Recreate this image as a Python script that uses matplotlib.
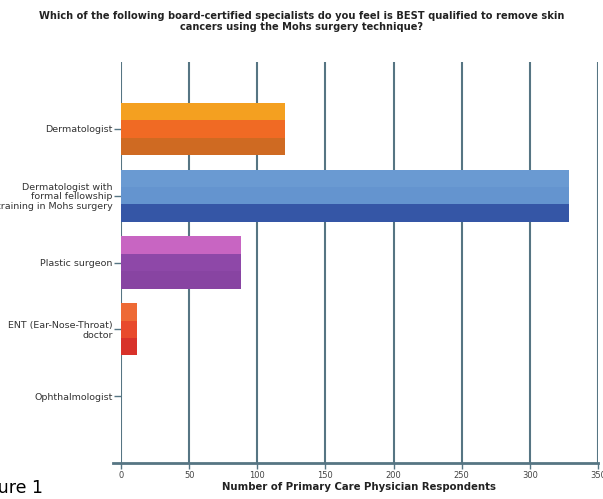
import matplotlib
matplotlib.use("Agg")
import matplotlib.pyplot as plt
import numpy as np

categories = ["Dermatologist",
              "Dermatologist with\nformal fellowship\ntraining in Mohs surgery",
              "Plastic surgeon",
              "ENT (Ear-Nose-Throat)\ndoctor",
              "Ophthalmologist"]
values = [120, 329, 88, 12, 0]
band_colors = [
    ["#F4A020", "#F06A24", "#CF6A22"],
    ["#6A9AD2", "#6494CF", "#3556A6"],
    ["#C865C2", "#8E48A8", "#8844A2"],
    ["#EE6A35", "#E84A2C", "#D8322A"],
    ["#cccccc", "#cccccc", "#cccccc"],
]
xticks = [0, 50, 100, 150, 200, 250, 300, 350]
title = ("Which of the following board-certified specialists do you feel is BEST qualified to remove skin\n"
         "cancers using the Mohs surgery technique?")
xlabel = "Number of Primary Care Physician Respondents"

fig = plt.figure(figsize=(6.03, 4.99), dpi=100)
ax = fig.add_axes([121/603, 36/499, 477/603, 401/499])

grid_color = "#567583"
for t in xticks:
    ax.axvline(t, color=grid_color, lw=1.5, zorder=1)

bar_h = 0.78
band = bar_h / 3
ypos = np.arange(len(categories))
for i, (v, cols) in enumerate(zip(values, band_colors)):
    if v <= 0:
        continue
    for j, c in enumerate(cols):
        yc = ypos[i] - bar_h / 2 + band / 2 + j * band
        ax.barh(yc, v, height=band, color=c, edgecolor="none", zorder=3)

ax.set_xlim(0, 350)
ax.set_ylim(len(categories), -1)
ax.set_yticks(ypos)
ax.set_yticklabels(categories, fontsize=6.8, color="#333333", linespacing=1.05)
ax.set_xticks(xticks)
ax.set_xticklabels([str(t) for t in xticks], fontsize=6, color="#444444")
ax.tick_params(axis="y", length=5, width=1, color=grid_color, pad=1)
ax.tick_params(axis="x", length=4, width=1, color=grid_color, pad=2)
for s in ["top", "right", "left"]:
    ax.spines[s].set_visible(False)
ax.spines["bottom"].set_color(grid_color)
ax.spines["bottom"].set_linewidth(2)
ax.spines["bottom"].set_bounds(-6, 350)
ax.set_xlabel(xlabel, fontsize=7.3, fontweight="bold", color="#222222", labelpad=1)

fig.text(0.5, 0.978, title, ha="center", va="top", fontsize=7.1,
         fontweight="bold", color="#222222", linespacing=1.1)
fig.text(-0.045, 0.005, "Figure 1", fontsize=12.5, color="black", ha="left", va="bottom")

fig.savefig("out.png", dpi=100)
